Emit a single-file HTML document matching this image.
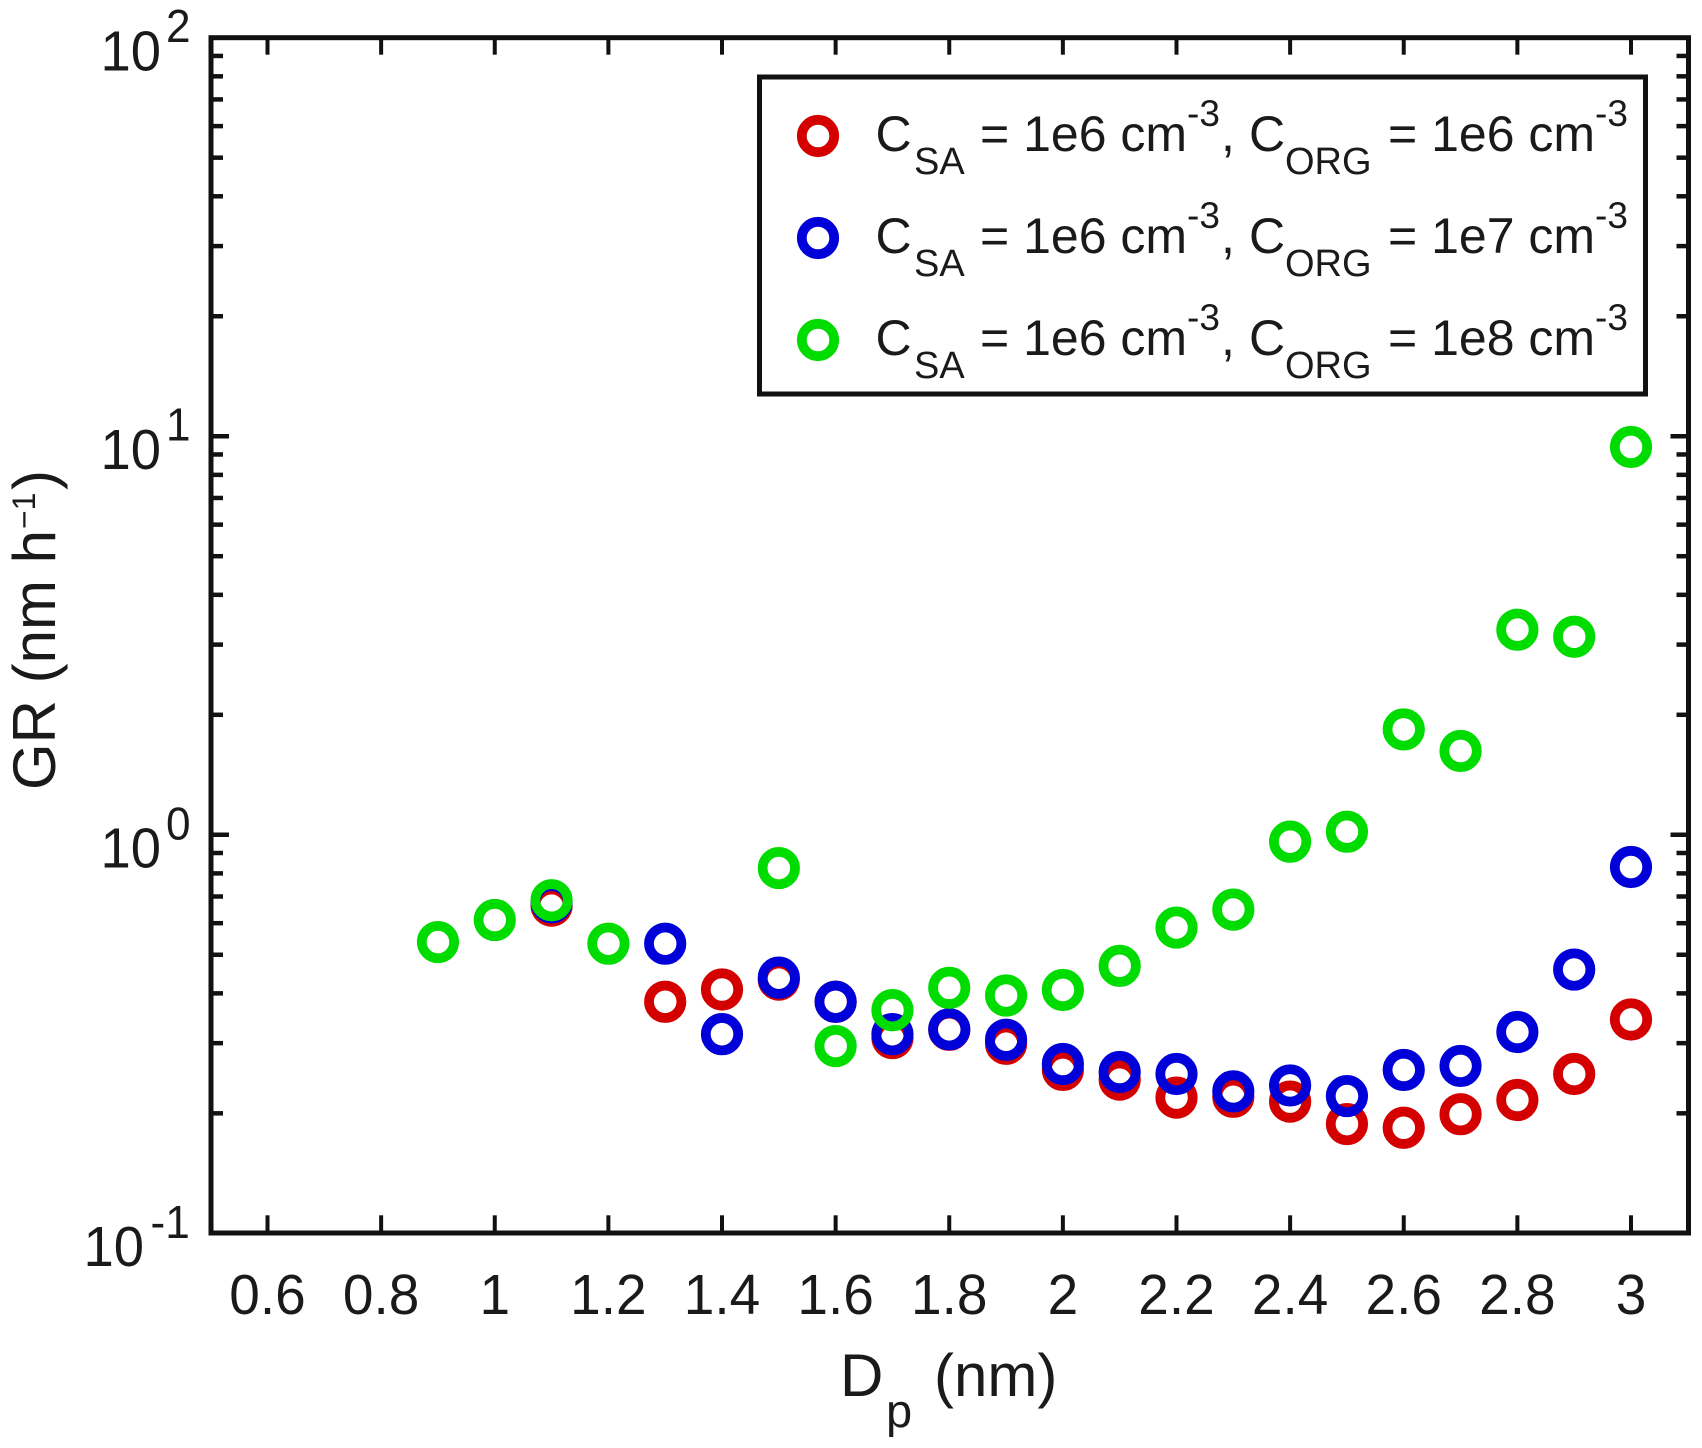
<!DOCTYPE html>
<html lang="en">
<head>
<meta charset="utf-8">
<title>GR vs Dp</title>
<style>
  html, body { margin: 0; padding: 0; background: #fff; }
  svg { display: block; }
  text { font-family: "Liberation Sans", Arial, sans-serif; fill: #1a1a1a; }
</style>
</head>
<body>
<svg id="chart" xmlns="http://www.w3.org/2000/svg" width="1702" height="1448" viewBox="0 0 1702 1448">
  <rect x="0" y="0" width="1702" height="1448" fill="#fff"/>
  <g id="ticks"></g>
  <g id="tick-labels"></g>
  <rect x="211" y="37.7" width="1477.5" height="1195.3" fill="none" stroke="#111" stroke-width="5"/>
  <g id="marks"></g>

  <text font-size="60" y="1396"><tspan x="840">D</tspan><tspan x="886" y="1427" font-size="47">p</tspan><tspan x="934" y="1396">(nm)</tspan></text>
  <text font-size="60" transform="translate(55,790) rotate(-90)"><tspan x="0" y="0">GR (nm h</tspan><tspan x="261" y="-20" font-size="32">−1</tspan><tspan x="300" y="0">)</tspan></text>

  <g>
    <rect x="759.5" y="77" width="886" height="317" fill="#fff" stroke="#111" stroke-width="5"/>
    <g>
      <circle cx="818" cy="136" r="16.2" fill="none" stroke="#d40000" stroke-width="9.8"/>
      <text font-size="50"><tspan x="875.5" y="151">C</tspan><tspan x="914" y="174" font-size="38">SA</tspan><tspan x="980" y="151">= 1e6 cm</tspan><tspan x="1187" y="126" font-size="37">-3</tspan><tspan x="1221" y="151">,</tspan><tspan x="1249" y="151">C</tspan><tspan x="1285" y="174" font-size="38">ORG</tspan><tspan x="1388" y="151">= 1e6 cm</tspan><tspan x="1595" y="126" font-size="37">-3</tspan></text>
    </g>
    <g>
      <circle cx="818" cy="238" r="16.2" fill="none" stroke="#0000d8" stroke-width="9.8"/>
      <text font-size="50"><tspan x="875.5" y="253">C</tspan><tspan x="914" y="276" font-size="38">SA</tspan><tspan x="980" y="253">= 1e6 cm</tspan><tspan x="1187" y="228" font-size="37">-3</tspan><tspan x="1221" y="253">,</tspan><tspan x="1249" y="253">C</tspan><tspan x="1285" y="276" font-size="38">ORG</tspan><tspan x="1388" y="253">= 1e7 cm</tspan><tspan x="1595" y="228" font-size="37">-3</tspan></text>
    </g>
    <g>
      <circle cx="818" cy="340" r="16.2" fill="none" stroke="#00dc00" stroke-width="9.8"/>
      <text font-size="50"><tspan x="875.5" y="355">C</tspan><tspan x="914" y="378" font-size="38">SA</tspan><tspan x="980" y="355">= 1e6 cm</tspan><tspan x="1187" y="330" font-size="37">-3</tspan><tspan x="1221" y="355">,</tspan><tspan x="1249" y="355">C</tspan><tspan x="1285" y="378" font-size="38">ORG</tspan><tspan x="1388" y="355">= 1e8 cm</tspan><tspan x="1595" y="330" font-size="37">-3</tspan></text>
    </g>
  </g>
</svg>
<script>
// Chart data
const dp = [0.9, 1.0, 1.1, 1.2, 1.3, 1.4, 1.5, 1.6, 1.7, 1.8, 1.9, 2.0, 2.1, 2.2, 2.3, 2.4, 2.5, 2.6, 2.7, 2.8, 2.9, 3.0];
const grRed = [null, null, 0.664, null, 0.381, 0.409, 0.433, 0.381, 0.309, 0.324, 0.299, 0.257, 0.243, 0.219, 0.220, 0.214, 0.188, 0.184, 0.199, 0.216, 0.251, 0.344];
const grBlue = [null, null, 0.677, null, 0.533, 0.316, 0.438, 0.381, 0.316, 0.325, 0.306, 0.266, 0.254, 0.251, 0.227, 0.235, 0.221, 0.257, 0.263, 0.320, 0.459, 0.830];
const grGreen = [0.538, 0.611, 0.685, 0.533, null, null, 0.825, 0.295, 0.363, 0.413, 0.395, 0.408, 0.469, 0.585, 0.649, 0.961, 1.018, 1.838, 1.623, 3.27, 3.14, 9.40];
const xTicks = [0.6, 0.8, 1.0, 1.2, 1.4, 1.6, 1.8, 2.0, 2.2, 2.4, 2.6, 2.8, 3.0];
const xTickLabels = ['0.6', '0.8', '1', '1.2', '1.4', '1.6', '1.8', '2', '2.2', '2.4', '2.6', '2.8', '3'];
const yDecades = [-1, 0, 1, 2];
const yMinorMultiples = [2, 3, 4, 5, 6, 7, 8, 9];

const NS = 'http://www.w3.org/2000/svg';
const plotLeft = 210.7, plotRight = 1687.8, plotTop = 37.7, plotBottom = 1233.3;
const frameLeft = 211, frameRight = 1688.5;
const xMin = 0.5, xMax = 3.1, logMin = -1, logMax = 2;
function xScale(v) { return plotLeft + (v - xMin) / (xMax - xMin) * (plotRight - plotLeft); }
function yScale(v) { return plotBottom - (Math.log10(v) - logMin) / (logMax - logMin) * (plotBottom - plotTop); }

const ticksLayer = document.getElementById('ticks');
const labelsLayer = document.getElementById('tick-labels');
const marksLayer = document.getElementById('marks');

function tickLine(x1, y1, x2, y2, w) {
  const el = document.createElementNS(NS, 'line');
  el.setAttribute('x1', x1);
  el.setAttribute('y1', y1);
  el.setAttribute('x2', x2);
  el.setAttribute('y2', y2);
  el.setAttribute('stroke', '#111');
  el.setAttribute('stroke-width', w);
  
  
  ticksLayer.appendChild(el);
}

xTicks.forEach(function (t, i) {
  const x = xScale(t);
  tickLine(x, plotBottom, x, plotBottom - 18, 4);
  tickLine(x, plotTop, x, plotTop + 17, 4);
  const label = document.createElementNS(NS, 'text');
  label.setAttribute('transform', 'translate(' + x + ',1314) scale(0.965,1)');
  label.setAttribute('font-size', 57);
  label.setAttribute('text-anchor', 'middle');
  
  
  label.textContent = xTickLabels[i];
  labelsLayer.appendChild(label);
});

yDecades.forEach(function (d) {
  const major = Math.pow(10, d);
  const y = yScale(major);
  tickLine(frameLeft, y, frameLeft + 18, y, 4.5);
  tickLine(frameRight, y, frameRight - 18, y, 4.5);
  const neg = d < 0;
  const base = document.createElementNS(NS, 'text');
  base.setAttribute('transform', 'translate(' + (neg ? 83.5 : 100.5) + ',' + (y + 32.6) + ') scale(0.955,1)');
  base.setAttribute('font-size', 57);
  
  
  base.textContent = '10';
  labelsLayer.appendChild(base);
  const exp = document.createElementNS(NS, 'text');
  exp.setAttribute('transform', 'translate(' + (neg ? 150.5 : 166) + ',' + (y + 4.5) + ') scale(0.96,1)');
  exp.setAttribute('font-size', 46);
  
  
  exp.textContent = String(d);
  labelsLayer.appendChild(exp);
  if (d < logMax) {
    yMinorMultiples.forEach(function (m) {
      const my = yScale(m * major);
      tickLine(frameLeft, my, frameLeft + 12, my, 4.5);
      tickLine(frameRight, my, frameRight - 12, my, 4.5);
    });
  }
});

function drawSeries(values, color, name) {
  values.forEach(function (v, i) {
    if (v === null) return;
    const c = document.createElementNS(NS, 'circle');
    c.setAttribute('cx', xScale(dp[i]));
    c.setAttribute('cy', yScale(v));
    c.setAttribute('r', 16.2);
    c.setAttribute('fill', 'none');
    c.setAttribute('stroke', color);
    c.setAttribute('stroke-width', 9.8);
    
    
    marksLayer.appendChild(c);
  });
}
drawSeries(grRed, '#d40000', 'point-corg-1e6');
drawSeries(grBlue, '#0000d8', 'point-corg-1e7');
drawSeries(grGreen, '#00dc00', 'point-corg-1e8');
</script>
</body>
</html>
